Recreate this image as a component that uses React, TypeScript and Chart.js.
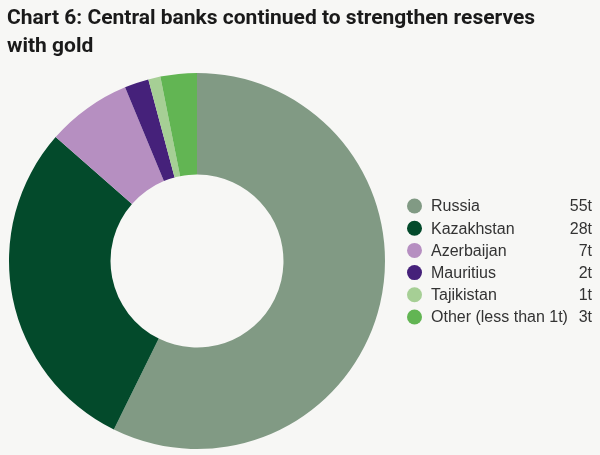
import React, { useEffect, useRef } from "react";
import { Chart, registerables } from "chart.js";

Chart.register(...registerables);

const categories = ["Russia", "Kazakhstan", "Azerbaijan", "Mauritius", "Tajikistan", "Other (less than 1t)"];
const values = [55, 28, 7, 2, 1, 3];
const valueLabels = ["55t", "28t", "7t", "2t", "1t", "3t"];
const colors = ["#819a84", "#034a2b", "#b68fc1", "#45217a", "#a6cf95", "#62b553"];
const titleLines = ["Chart 6: Central banks continued to strengthen reserves", "with gold"];

const BG = "#f7f7f5";

const overlayPlugin = {
  id: "overlay",
  afterDraw(chart: any) {
    const ctx = chart.ctx as CanvasRenderingContext2D;
    ctx.save();
    // Title
    ctx.fillStyle = "#1a1a1a";
    ctx.font = "bold 21px Roboto, 'Liberation Sans', sans-serif";
    ctx.textBaseline = "alphabetic";
    ctx.textAlign = "left";
    const targetW = 534;
    const w0 = ctx.measureText(titleLines[0]).width;
    const sx = Math.min(1, targetW / w0);
    titleLines.forEach((line, i) => {
      ctx.save();
      ctx.translate(7, 24 + i * 28);
      ctx.scale(sx, 1);
      ctx.fillText(line, 0, 0);
      ctx.restore();
    });
    // Legend
    const rowY0 = 206;
    const pitch = 22.2;
    ctx.font = "16px 'Liberation Sans', Arial, sans-serif";
    ctx.textBaseline = "middle";
    categories.forEach((c, i) => {
      const y = rowY0 + i * pitch;
      ctx.beginPath();
      ctx.arc(414.5, y, 7.5, 0, Math.PI * 2);
      ctx.fillStyle = colors[i];
      ctx.fill();
      ctx.fillStyle = "#333333";
      ctx.textAlign = "left";
      ctx.fillText(c, 431, y + 1);
      ctx.textAlign = "right";
      ctx.fillText(valueLabels[i], 592, y + 1);
    });
    ctx.restore();
  },
};

const bgPlugin = {
  id: "bg",
  beforeDraw(chart: any) {
    const ctx = chart.ctx as CanvasRenderingContext2D;
    ctx.save();
    ctx.fillStyle = BG;
    ctx.fillRect(0, 0, chart.width, chart.height);
    ctx.restore();
  },
};

export default function App() {
  const ref = useRef<HTMLCanvasElement | null>(null);
  useEffect(() => {
    document.body.style.margin = "0";
    document.body.style.background = BG;
    const chart = new Chart(ref.current as HTMLCanvasElement, {
      type: "doughnut",
      data: {
        labels: categories,
        datasets: [
          {
            data: values,
            backgroundColor: colors,
            borderWidth: 0,
          },
        ],
      },
      options: {
        animation: false,
        responsive: false,
        cutout: "46%",
        layout: { padding: { left: 9, right: 215, top: 73, bottom: 6 } },
        plugins: {
          legend: { display: false },
          title: { display: false },
          tooltip: { enabled: false },
        },
      },
      plugins: [bgPlugin, overlayPlugin],
    });
    return () => chart.destroy();
  }, []);
  return (
    <div style={{ position: "absolute", left: 0, top: 0, width: 600, height: 455, background: BG }}>
      <canvas ref={ref} width={600} height={455} style={{ display: "block", width: 600, height: 455 }} />
    </div>
  );
}
